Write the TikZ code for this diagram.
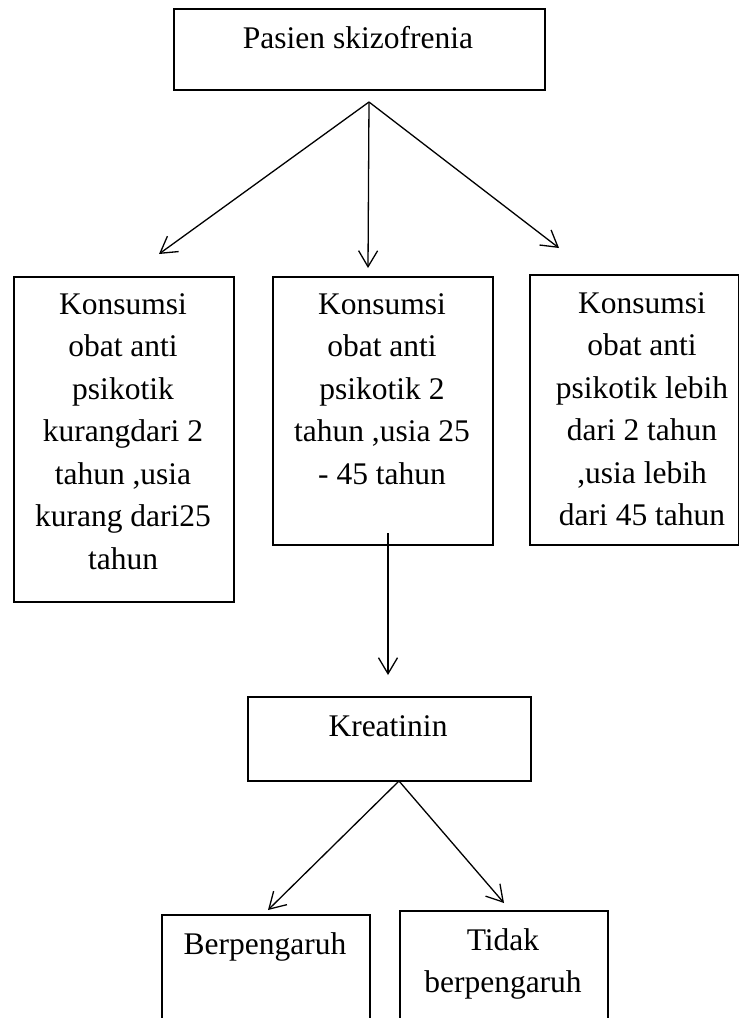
\documentclass[tikz,border=0pt]{standalone}
\usepackage{fontspec}
\setmainfont{Liberation Serif}
\usetikzlibrary{arrows.meta}
\begin{document}
\begin{tikzpicture}[x=1pt,y=-1pt,
  box/.style={draw, line width=1.7pt, inner sep=0pt, anchor=north west},
  txt/.style={font=\fontsize{31.5}{42.5}\selectfont, align=center, inner sep=0pt},
  arr/.style={line width=1.3pt, -{Straight Barb[length=16pt,width=19pt]}}]
\useasboundingbox (0,0) rectangle (739,1018);
\clip (0,0) rectangle (739,1018);
\fill[white] (0,0) rectangle (739,1018);

% boxes
\node[box, minimum width=371pt, minimum height=81pt] (top) at (173,8) {};
\node[box, minimum width=220pt, minimum height=325pt] (bl) at (13,276) {};
\node[box, minimum width=220pt, minimum height=268pt] (bm) at (272,276) {};
\node[box, minimum width=209pt, minimum height=270pt] (br) at (529,274) {};
\node[box, minimum width=283pt, minimum height=84pt] (kr) at (247,696) {};
\node[box, minimum width=208pt, minimum height=160pt] (b1) at (161,914) {};
\node[box, minimum width=208pt, minimum height=160pt] (b2) at (399,910) {};

% texts
\node[txt, anchor=base] (ttop) at (358,48) {Pasien skizofrenia};
\node[txt, anchor=north] (tbl) at (123,293) {Konsumsi\\obat anti\\psikotik\\kurangdari 2\\tahun ,usia\\kurang dari25\\tahun};
\node[txt, anchor=north] (tbm) at (382,293) {Konsumsi\\obat anti\\psikotik 2\\tahun ,usia 25\\- 45 tahun};
\node[txt, anchor=north] (tbr) at (642,292) {Konsumsi\\obat anti\\psikotik lebih\\dari 2 tahun\\,usia lebih\\dari 45 tahun};
\node[txt, anchor=base] (tkr) at (388,736) {Kreatinin};
\node[txt, anchor=base] (tb1) at (265,954) {Berpengaruh};
\node[txt, anchor=north] (tb2) at (503,928) {Tidak\\berpengaruh};

% connector ends
\coordinate (s0) at (369,102);
\coordinate (e1) at (159,254);
\coordinate (e2) at (368,268);
\coordinate (e3) at (559,248);
\coordinate (s1) at (388,533);
\coordinate (e4) at (388,675);
\coordinate (s2) at (399,781);
\coordinate (e5) at (268,910);
\coordinate (e6) at (504,903);

\draw[arr] (s0) -- (e1);
\draw[arr] (s0) -- (e2);
\draw[arr] (s0) -- (e3);
\draw[arr] (s1) -- (e4);
\draw[arr] (s2) -- (e5);
\draw[arr] (s2) -- (e6);
\end{tikzpicture}
\end{document}
